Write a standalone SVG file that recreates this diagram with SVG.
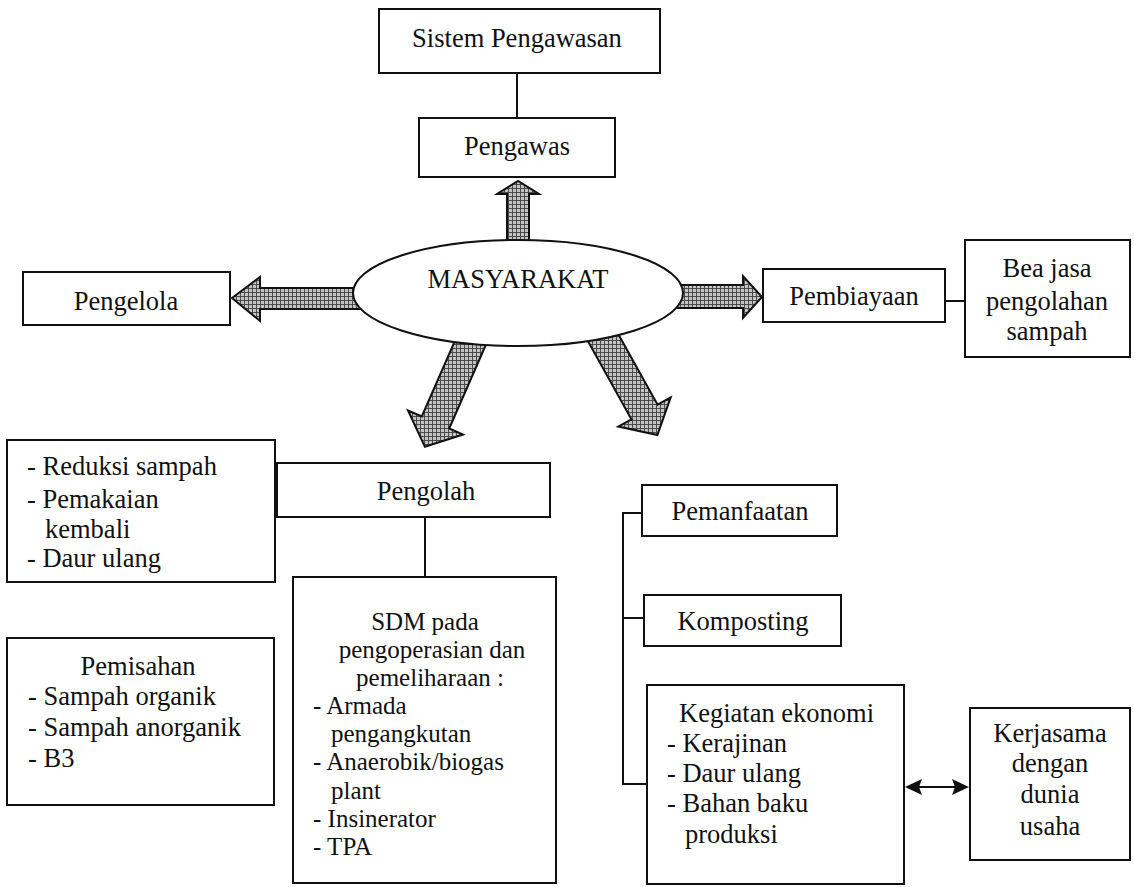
<svg xmlns="http://www.w3.org/2000/svg" width="1134" height="887" viewBox="0 0 1134 887">
<style>
.box{fill:#fff;stroke:#111;stroke-width:2}
.t{font-family:"Liberation Serif","Times New Roman",serif;font-size:26.5px;fill:#111}
.s{font-size:25px}
.c{text-anchor:middle}
.ln{stroke:#111;stroke-width:2;fill:none}
.blk{fill:url(#hatch);stroke:#111;stroke-width:2;stroke-linejoin:miter}
.head{fill:#111;stroke:none}
</style>
<defs>
<pattern id="hatch" width="4" height="4" patternUnits="userSpaceOnUse">
<rect width="4" height="4" fill="#c4c4c4"/>
<path d="M0 0.5H4M0.5 0V4" stroke="#4a4a4a" stroke-width="1"/>
</pattern>
</defs>
<rect width="1134" height="887" fill="#fff"/>

<g id="connectors">
<line class="ln" x1="517" y1="73" x2="517" y2="118"/>
<line class="ln" x1="945" y1="301" x2="965" y2="301"/>
<line class="ln" x1="425" y1="517" x2="425" y2="577"/>
<path class="ln" d="M642 513H623V784H647M623 618H644"/>
<line class="ln" x1="918" y1="787" x2="956" y2="787" stroke-width="3"/>
<path class="head" d="M905 787L922 779L919 787L922 795Z"/>
<path class="head" d="M969 787L952 779L955 787L952 795Z"/>
<polygon class="blk" points="507,245 507,194 497,194 518,181 539,194 529,194 529,245"/>
<polygon class="blk" points="370,288 260,288 260,277 232,298 260,321 260,309 370,309"/>
<polygon class="blk" points="670,285 743,285 743,276 762,297 743,318 743,308 670,308"/>
<polygon class="blk" points="461.9,324.9 421.8,416.5 408,410.5 424.9,446.8 463,434.5 449.2,428.5 489.3,336.9"/>
<polygon class="blk" points="609,317.4 657.6,404.7 670.7,397.4 657.4,435.1 618.3,426.6 631.4,419.3 582.8,332"/>
</g>

<g id="sistem-pengawasan">
<rect class="box" x="379" y="9" width="281" height="64"/>
<text class="t c" x="517" y="47">Sistem Pengawasan</text>
</g>
<g id="pengawas">
<rect class="box" x="419" y="118" width="196" height="59"/>
<text class="t c" x="517" y="155">Pengawas</text>
</g>
<g id="masyarakat">
<ellipse class="box" cx="518" cy="293" rx="165" ry="53"/>
<text class="t c" x="518" y="288">MASYARAKAT</text>
</g>
<g id="pengelola">
<rect class="box" x="23" y="272" width="207" height="53"/>
<text class="t c" x="126" y="310">Pengelola</text>
</g>
<g id="pembiayaan">
<rect class="box" x="763" y="269" width="182" height="53"/>
<text class="t c" x="854" y="305">Pembiayaan</text>
</g>
<g id="bea-jasa">
<rect class="box" x="965" y="240" width="165" height="117"/>
<text class="t c" x="1047" y="277">Bea jasa</text>
<text class="t c" x="1047" y="310">pengolahan</text>
<text class="t c" x="1047" y="340">sampah</text>
</g>
<g id="reduksi">
<rect class="box" x="7" y="440" width="268" height="142"/>
<text class="t" x="27" y="475">- Reduksi sampah</text>
<text class="t" x="27" y="508">- Pemakaian</text>
<text class="t" x="45" y="538">kembali</text>
<text class="t" x="27" y="567">- Daur ulang</text>
</g>
<g id="pemisahan">
<rect class="box" x="7" y="638" width="267" height="167"/>
<text class="t c" x="138" y="675">Pemisahan</text>
<text class="t" x="28" y="705">- Sampah organik</text>
<text class="t" x="28" y="736">- Sampah anorganik</text>
<text class="t" x="28" y="767">- B3</text>
</g>
<g id="pengolah">
<rect class="box" x="277" y="463" width="273" height="54"/>
<text class="t c" x="426" y="500">Pengolah</text>
</g>
<g id="sdm">
<rect class="box" x="293" y="577" width="263" height="306"/>
<text class="t s c" x="425" y="630">SDM pada</text>
<text class="t s c" x="432" y="658">pengoperasian dan</text>
<text class="t s c" x="430" y="686">pemeliharaan :</text>
<text class="t s" x="313" y="714">- Armada</text>
<text class="t s" x="331" y="742">pengangkutan</text>
<text class="t s" x="313" y="770">- Anaerobik/biogas</text>
<text class="t s" x="331" y="799">plant</text>
<text class="t s" x="313" y="827">- Insinerator</text>
<text class="t s" x="313" y="855">- TPA</text>
</g>
<g id="pemanfaatan">
<rect class="box" x="642" y="485" width="195" height="51"/>
<text class="t c" x="740" y="520">Pemanfaatan</text>
</g>
<g id="komposting">
<rect class="box" x="644" y="595" width="197" height="51"/>
<text class="t c" x="743" y="630">Komposting</text>
</g>
<g id="kegiatan">
<rect class="box" x="647" y="685" width="257" height="199"/>
<text class="t" x="679" y="722">Kegiatan ekonomi</text>
<text class="t" x="667" y="752">- Kerajinan</text>
<text class="t" x="667" y="782">- Daur ulang</text>
<text class="t" x="667" y="812">- Bahan baku</text>
<text class="t" x="685" y="843">produksi</text>
</g>
<g id="kerjasama">
<rect class="box" x="970" y="708" width="160" height="152"/>
<text class="t c" x="1050" y="742">Kerjasama</text>
<text class="t c" x="1050" y="772">dengan</text>
<text class="t c" x="1050" y="803">dunia</text>
<text class="t c" x="1050" y="835">usaha</text>
</g>
</svg>
